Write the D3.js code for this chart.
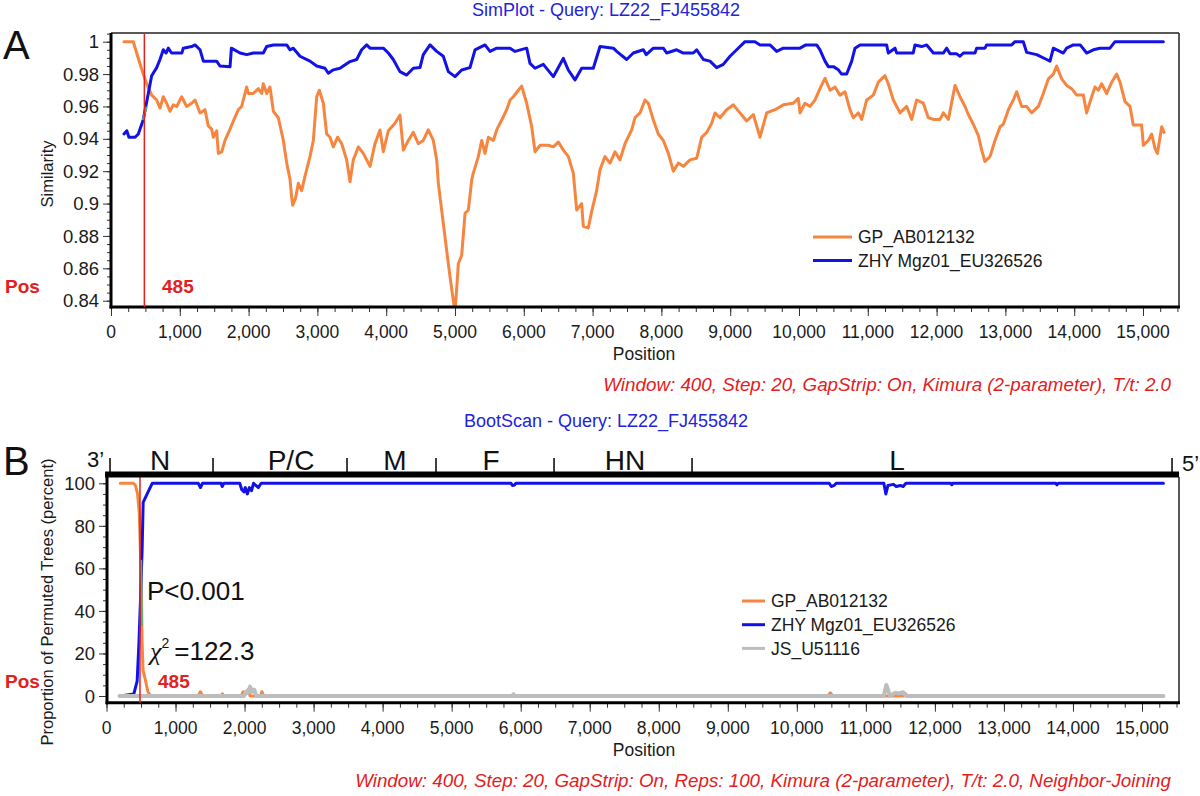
<!DOCTYPE html>
<html>
<head>
<meta charset="utf-8">
<style>
  body { margin: 0; background: #fff; }
  svg { display: block; font-family: "Liberation Sans", Arial, sans-serif; }
</style>
</head>
<body>
<svg id="chart" width="1200" height="796"></svg>
<script src="https://d3js.org/d3.v7.min.js"></script>
<script>
  // ---- SimPlot (panel A): [position, similarity]
  const simGP = [[189,1.0],[324,1.0],[373,0.993],[446,0.983],[519,0.974],[591,0.967],[664,0.964],[712,0.959],[760,0.966],[809,0.962],[857,0.957],[905,0.961],[955,0.960],[1027,0.966],[1100,0.960],[1173,0.962],[1221,0.964],[1294,0.956],[1366,0.958],[1414,0.948],[1463,0.946],[1487,0.941],[1536,0.945],[1560,0.931],[1609,0.932],[1657,0.939],[1730,0.946],[1778,0.951],[1851,0.958],[1899,0.960],[1972,0.972],[1996,0.968],[2069,0.968],[2142,0.971],[2190,0.968],[2214,0.974],[2263,0.968],[2311,0.972],[2360,0.957],[2432,0.953],[2505,0.939],[2554,0.925],[2602,0.915],[2626,0.904],[2641,0.899],[2680,0.903],[2723,0.9125],[2771,0.908],[2820,0.917],[2892,0.929],[2941,0.939],[2990,0.966],[3028,0.970],[3086,0.962],[3135,0.943],[3183,0.941],[3231,0.935],[3294,0.941],[3353,0.937],[3425,0.927],[3474,0.9135],[3522,0.927],[3595,0.935],[3667,0.931],[3765,0.923],[3837,0.937],[3910,0.9455],[3958,0.932],[4031,0.945],[4128,0.9496],[4200,0.9547],[4249,0.933],[4321,0.939],[4394,0.944],[4467,0.937],[4539,0.939],[4612,0.9455],[4685,0.939],[4734,0.927],[4758,0.9125],[4806,0.896],[4879,0.871],[4927,0.855],[4976,0.840],[5000,0.834],[5024,0.847],[5049,0.863],[5097,0.868],[5146,0.894],[5194,0.896],[5243,0.9146],[5267,0.919],[5339,0.929],[5388,0.939],[5436,0.931],[5485,0.941],[5557,0.939],[5606,0.9455],[5679,0.9516],[5751,0.958],[5800,0.964],[5848,0.966],[5921,0.970],[5969,0.9726],[6042,0.962],[6115,0.9475],[6163,0.932],[6236,0.936],[6357,0.936],[6429,0.935],[6502,0.938],[6575,0.933],[6648,0.929],[6720,0.9187],[6769,0.896],[6841,0.900],[6865,0.886],[6938,0.885],[6986,0.895],[7059,0.908],[7107,0.9208],[7180,0.929],[7253,0.925],[7326,0.932],[7398,0.927],[7471,0.937],[7568,0.9455],[7616,0.953],[7689,0.956],[7762,0.964],[7810,0.962],[7883,0.9516],[7955,0.943],[8028,0.939],[8101,0.931],[8173,0.920],[8246,0.925],[8319,0.923],[8416,0.927],[8513,0.928],[8586,0.941],[8659,0.944],[8731,0.9496],[8779,0.956],[8852,0.953],[8949,0.958],[9046,0.961],[9142,0.956],[9240,0.951],[9336,0.955],[9433,0.941],[9530,0.956],[9651,0.958],[9772,0.961],[9917,0.962],[9990,0.965],[10015,0.956],[10087,0.962],[10160,0.960],[10233,0.964],[10305,0.971],[10378,0.9774],[10451,0.970],[10523,0.972],[10596,0.967],[10669,0.969],[10741,0.958],[10790,0.953],[10863,0.956],[10911,0.952],[10984,0.964],[11080,0.967],[11153,0.975],[11250,0.979],[11298,0.974],[11371,0.964],[11468,0.956],[11565,0.960],[11638,0.952],[11710,0.964],[11807,0.962],[11880,0.953],[11953,0.952],[12050,0.952],[12098,0.956],[12171,0.952],[12268,0.973],[12340,0.966],[12413,0.960],[12461,0.955],[12534,0.949],[12607,0.942],[12655,0.933],[12703,0.926],[12776,0.929],[12849,0.939],[12922,0.9475],[12970,0.949],[13043,0.958],[13115,0.964],[13164,0.969],[13237,0.960],[13309,0.960],[13382,0.956],[13479,0.960],[13551,0.968],[13624,0.977],[13697,0.980],[13745,0.985],[13818,0.977],[13890,0.973],[13963,0.971],[14036,0.967],[14133,0.967],[14181,0.956],[14254,0.966],[14302,0.972],[14350,0.970],[14399,0.974],[14472,0.968],[14545,0.975],[14617,0.980],[14666,0.975],[14738,0.963],[14811,0.960],[14859,0.9485],[14980,0.9485],[15005,0.936],[15078,0.939],[15126,0.943],[15175,0.934],[15209,0.931],[15272,0.9475],[15306,0.944]];

  const simZHY = [[189,0.943],[230,0.945],[260,0.941],[350,0.941],[397,0.943],[470,0.952],[542,0.968],[591,0.979],[664,0.984],[712,0.989],[760,0.995],[800,0.993],[833,0.996],[880,0.993],[1030,0.993],[1051,0.996],[1173,0.997],[1221,0.998],[1294,0.995],[1342,0.988],[1535,0.988],[1584,0.985],[1730,0.9845],[1750,0.996],[1875,0.993],[1972,0.992],[2069,0.993],[2214,0.993],[2263,0.997],[2360,0.998],[2554,0.998],[2602,0.995],[2650,0.996],[2747,0.991],[2892,0.988],[2990,0.985],[3110,0.9836],[3159,0.9805],[3232,0.9826],[3328,0.9836],[3474,0.9877],[3571,0.989],[3643,0.995],[3716,0.998],[3765,0.996],[3958,0.996],[4031,0.993],[4103,0.989],[4200,0.9815],[4297,0.9794],[4394,0.9836],[4491,0.984],[4539,0.992],[4637,0.998],[4734,0.994],[4830,0.991],[4903,0.9815],[5000,0.9784],[5097,0.9825],[5218,0.984],[5291,0.995],[5436,0.998],[5509,0.994],[5606,0.996],[5800,0.996],[5872,0.994],[6042,0.996],[6090,0.9866],[6163,0.9836],[6284,0.986],[6429,0.9784],[6502,0.984],[6574,0.9897],[6647,0.9825],[6744,0.9764],[6841,0.9836],[7010,0.9836],[7108,0.997],[7302,0.996],[7350,0.994],[7495,0.989],[7592,0.993],[7737,0.995],[7780,0.992],[7883,0.996],[8028,0.996],[8076,0.993],[8222,0.995],[8318,0.993],[8464,0.993],[8513,0.995],[8610,0.989],[8706,0.988],[8803,0.984],[8900,0.986],[8997,0.991],[9094,0.995],[9215,1.0],[9360,1.0],[9433,0.998],[9578,0.998],[9675,0.994],[9772,0.996],[10015,0.996],[10100,0.998],[10257,0.998],[10305,0.995],[10378,0.988],[10426,0.9846],[10500,0.9846],[10572,0.9826],[10620,0.980],[10693,0.980],[10766,0.988],[10814,0.996],[10887,0.998],[11274,0.998],[11298,0.993],[11395,0.996],[11420,0.993],[11660,0.993],[11686,0.998],[11783,0.997],[11856,0.998],[11953,0.993],[12098,0.993],[12147,0.996],[12195,0.9925],[12292,0.9925],[12340,0.991],[12389,0.993],[12558,0.993],[12582,0.996],[12703,0.996],[12727,0.998],[13091,0.998],[13140,1.0],[13260,1.0],[13309,0.9934],[13454,0.992],[13600,0.989],[13648,0.988],[13697,0.996],[13842,0.993],[13890,0.996],[13987,0.998],[14087,0.998],[14181,0.993],[14278,0.995],[14375,0.996],[14520,0.996],[14593,1.0],[15296,1.0]];

  const simCross = [[461,0.9516],[519,0.960]];

  // ---- BootScan (panel B): [position, percent]
  const bootGP = [[200,100],[390,100],[420,99],[450,95],[475,86],[490,70],[505,50],[516,25],[530,12],[560,8],[600,2],[640,0],[1330,0],[1361,2],[1390,0],[1660,0],[1680,1],[1700,0],[1950,0],[1980,2],[2020,1],[2050,3],[2080,0],[2230,0],[2250,2],[2280,0],[10450,0],[10485,1.5],[10520,0],[11540,0],[11570,1.2],[11600,0],[15310,0]];
  const bootZHY = [[200,0],[396,1],[444,7],[470,25],[492,45],[517,70],[531,91],[589,95],[662,100],[1330,100],[1361,98],[1390,100],[1660,100],[1676,98.5],[1700,100],[1930,100],[1960,97],[1990,96],[2010,98],[2040,95],[2070,98],[2100,96.5],[2130,100],[2200,98],[2240,100],[5860,100],[5880,99],[5910,99.2],[5930,100],[10470,100],[10500,98.5],[10540,99],[10570,100],[11260,100],[11290,95],[11320,99],[11400,99.5],[11440,98.5],[11500,99],[11540,98.5],[11580,100],[12230,100],[12245,99.3],[12260,100],[13750,100],[13768,99.3],[13790,100],[15310,100]];
  const bootJS = [[188,0],[1990,0],[2020,2],[2050,1.5],[2080,4.4],[2110,2],[2140,3],[2170,0],[5880,0],[5895,0.8],[5910,0],[11260,0],[11280,3],[11296,5.2],[11320,3],[11350,0],[11420,1.5],[11480,1.2],[11540,1.8],[11580,0],[15310,0]];
  const bootCross = [[503,64],[513,33]];

  // ---- genome map
  const geneNames = ['N', 'P/C', 'M', 'F', 'HN', 'L'];
  const geneBounds = [51, 1543, 3484, 4773, 6483, 8482, 15435];
  const geneLabelPos = [775, 2673, 4179, 5570, 7511, 11452];

  // ---- ticks & labels
  const posTicks = d3.range(0, 15001, 1000);
  const simTicks = [0.84, 0.86, 0.88, 0.9, 0.92, 0.94, 0.96, 0.98, 1];
  const bootTicks = [0, 20, 40, 60, 80, 100];
  const breakPos = 485;

  const ORANGE = '#f5853f', BLUE = '#1212e6', GREY = '#bdbdbd', GREEN = '#35c07a';
  const RED = '#e4201c', TITLE_BLUE = '#2323d8';

  const svg = d3.select('#chart');
  const line = (x, y) => d3.line().x(d => x(d[0])).y(d => y(d[1]));

  function tickLines(g) {
    g.select('.domain').remove();
    g.selectAll('.tick line').attr('stroke', '#333').attr('stroke-width', 1);
    g.selectAll('.tick text').remove();
  }

  function drawPanel(c) {
    const { x, y, left, right, top, bottom } = c;
    svg.append('clipPath').attr('id', c.id)
      .append('rect').attr('x', left).attr('y', top).attr('width', right - left).attr('height', bottom - top);

    // tick marks (minor + major)
    svg.append('g').attr('transform', `translate(0,${bottom})`)
      .call(d3.axisBottom(x).tickValues(d3.range(0, 15501, 250)).tickSize(5).tickFormat(''))
      .call(tickLines);
    svg.append('g').attr('transform', `translate(0,${bottom})`)
      .call(d3.axisBottom(x).tickValues(posTicks).tickSize(9).tickFormat(''))
      .call(tickLines);
    svg.append('g').attr('transform', `translate(${left},0)`)
      .call(d3.axisLeft(y).tickValues(c.yMinor).tickSize(4).tickFormat(''))
      .call(tickLines);
    svg.append('g').attr('transform', `translate(${left},0)`)
      .call(d3.axisLeft(y).tickValues(c.yTicks).tickSize(8).tickFormat(''))
      .call(tickLines);

    // tick labels
    svg.append('g').selectAll('text').data(posTicks).join('text')
      .attr('x', d => x(d)).attr('y', bottom + 31).attr('text-anchor', 'middle')
      .attr('font-size', 17.5).attr('fill', '#1a1a1a').text(d3.format(','));
    svg.append('g').selectAll('text').data(c.yTicks).join('text')
      .attr('x', left - 12).attr('y', d => y(d)).attr('dy', '0.36em').attr('text-anchor', 'end')
      .attr('font-size', 18.5).attr('fill', '#1a1a1a').text(d => String(d));

    // series
    const plot = svg.append('g').attr('clip-path', `url(#${c.id})`);
    c.series.forEach(s => {
      plot.append('path').datum(s.data)
        .attr('fill', 'none').attr('stroke', s.color).attr('stroke-width', s.width || 3)
        .attr('stroke-linejoin', 'round').attr('stroke-linecap', 'round')
        .attr('d', line(x, y));
    });
    plot.append('path').datum(c.cross)
      .attr('fill', 'none').attr('stroke', GREEN).attr('stroke-width', 2).attr('d', line(x, y));

    // frame
    if (c.topWidth) {
      svg.append('line').attr('x1', left).attr('x2', right).attr('y1', top).attr('y2', top)
        .attr('stroke', '#222').attr('stroke-width', c.topWidth);
    }
    svg.append('line').attr('x1', right).attr('x2', right).attr('y1', top).attr('y2', bottom)
      .attr('stroke', '#222').attr('stroke-width', 1.5);
    svg.append('line').attr('x1', left).attr('x2', left).attr('y1', top).attr('y2', bottom + 1.5)
      .attr('stroke', '#000').attr('stroke-width', 3);
    svg.append('line').attr('x1', left - 1.5).attr('x2', right + 1).attr('y1', bottom).attr('y2', bottom)
      .attr('stroke', '#000').attr('stroke-width', 3);

    // breakpoint
    svg.append('line').attr('x1', x(breakPos)).attr('x2', x(breakPos))
      .attr('y1', c.redTop).attr('y2', bottom)
      .attr('stroke', RED).attr('stroke-width', 1.5);
    svg.append('text').attr('x', 5).attr('y', c.posY).attr('fill', RED)
      .attr('font-weight', 'bold').attr('font-size', 19).text('Pos');
    svg.append('text').attr('x', c.breakLabelX).attr('y', c.posY).attr('fill', RED)
      .attr('font-weight', 'bold').attr('font-size', 19).text(breakPos);

    // titles & labels
    svg.append('text').attr('x', 606).attr('y', c.titleY).attr('text-anchor', 'middle')
      .attr('fill', TITLE_BLUE).attr('font-size', 18).text(c.title);
    svg.append('text').attr('x', 3).attr('y', c.letterY).attr('font-size', 40).attr('fill', '#111').text(c.letter);
    svg.append('text').attr('x', 644).attr('y', c.xLabelY).attr('text-anchor', 'middle')
      .attr('font-size', 17.5).attr('fill', '#1a1a1a').text('Position');
    svg.append('text').attr('transform', `translate(${c.yLabelX},${c.yLabelY}) rotate(-90)`)
      .attr('text-anchor', 'middle').attr('font-size', 16.5).attr('fill', '#1a1a1a').text(c.yLabel);
    svg.append('text').attr('x', 1171).attr('y', c.noteY).attr('text-anchor', 'end')
      .attr('fill', RED).attr('font-style', 'italic').attr('font-size', 18.8).text(c.note);

    // legend
    c.series.forEach((s, i) => {
      const ly = c.legendY + i * c.legendStep;
      svg.append('line').attr('x1', c.legendX).attr('x2', c.legendX + c.legendLen)
        .attr('y1', ly).attr('y2', ly).attr('stroke', s.color).attr('stroke-width', 3);
      svg.append('text').attr('x', c.legendX + c.legendLen + 6).attr('y', ly).attr('dy', '0.35em')
        .attr('font-size', 17.5).attr('fill', '#1a1a1a').text(s.name);
    });
  }

  // ---- panel A
  const xA = d3.scaleLinear().domain([0, 15000]).range([111, 1143]);
  const yA = d3.scaleLinear().domain([0.84, 1]).range([300.7, 41.7]);
  drawPanel({
    id: 'clipA', x: xA, y: yA, left: 111, right: 1179, top: 33, bottom: 307,
    yTicks: simTicks, yMinor: d3.range(0.84, 1.0051, 0.005), topWidth: 1.5,
    series: [
      { name: 'GP_AB012132', data: simGP, color: ORANGE },
      { name: 'ZHY Mgz01_EU326526', data: simZHY, color: BLUE }
    ],
    cross: simCross, redTop: 33, posY: 293, breakLabelX: 162,
    title: 'SimPlot - Query: LZ22_FJ455842', titleY: 16, letter: 'A', letterY: 59,
    xLabelY: 360, yLabel: 'Similarity', yLabelX: 53, yLabelY: 174,
    note: 'Window: 400, Step: 20, GapStrip: On, Kimura (2-parameter), T/t: 2.0', noteY: 391,
    legendX: 813, legendLen: 39, legendY: 237, legendStep: 23.5
  });

  // ---- panel B
  const xB = d3.scaleLinear().domain([0, 15000]).range([106.5, 1142]);
  const yB = d3.scaleLinear().domain([0, 100]).range([696, 483.3]);
  drawPanel({
    id: 'clipB', x: xB, y: yB, left: 107, right: 1179, top: 477, bottom: 702.7,
    yTicks: bootTicks, yMinor: d3.range(0, 104, 5), topWidth: 0,
    series: [
      { name: 'GP_AB012132', data: bootGP, color: ORANGE },
      { name: 'ZHY Mgz01_EU326526', data: bootZHY, color: BLUE },
      { name: 'JS_U51116', data: bootJS, color: GREY, width: 4 }
    ],
    cross: bootCross, redTop: 477, posY: 688, breakLabelX: 158,
    title: 'BootScan - Query: LZ22_FJ455842', titleY: 427, letter: 'B', letterY: 475,
    xLabelY: 756, yLabel: 'Proportion of Permuted Trees (percent)', yLabelX: 53, yLabelY: 602,
    note: 'Window: 400, Step: 20, GapStrip: On, Reps: 100, Kimura (2-parameter), T/t: 2.0, Neighbor-Joining', noteY: 787,
    legendX: 742, legendLen: 23, legendY: 601, legendStep: 23.7
  });

  // genome map bar on top of panel B
  const map = svg.append('g');
  map.append('line').attr('x1', 105).attr('x2', 1179).attr('y1', 474.5).attr('y2', 474.5)
    .attr('stroke', '#000').attr('stroke-width', 6);
  map.selectAll('.gene-tick').data(geneBounds).join('line')
    .attr('x1', d => xB(d)).attr('x2', d => xB(d)).attr('y1', 474).attr('y2', 458)
    .attr('stroke', '#000').attr('stroke-width', 1.5);
  map.selectAll('.gene-name').data(geneNames).join('text')
    .attr('x', (d, i) => xB(geneLabelPos[i])).attr('y', 470).attr('text-anchor', 'middle')
    .attr('font-size', 28).attr('fill', '#111').text(d => d);
  map.append('text').attr('x', 87).attr('y', 467).attr('font-size', 22).attr('fill', '#111').text('3\u2019');
  map.append('text').attr('x', 1182).attr('y', 471).attr('font-size', 22).attr('fill', '#111').text('5\u2019');

  // statistics annotation
  svg.append('text').attr('x', 147).attr('y', 600).attr('font-size', 26).attr('fill', '#111').text('P<0.001');
  const chi = svg.append('text').attr('x', 150).attr('y', 660).attr('font-size', 26).attr('fill', '#111');
  chi.append('tspan').attr('font-family', '"Liberation Serif", "Times New Roman", serif')
    .attr('font-style', 'italic').text('\u03c7');
  chi.append('tspan').attr('font-size', 14).attr('dy', -12).text('2');
  chi.append('tspan').attr('dy', 12).attr('dx', 5).text('=122.3');
</script>
</body>
</html>
